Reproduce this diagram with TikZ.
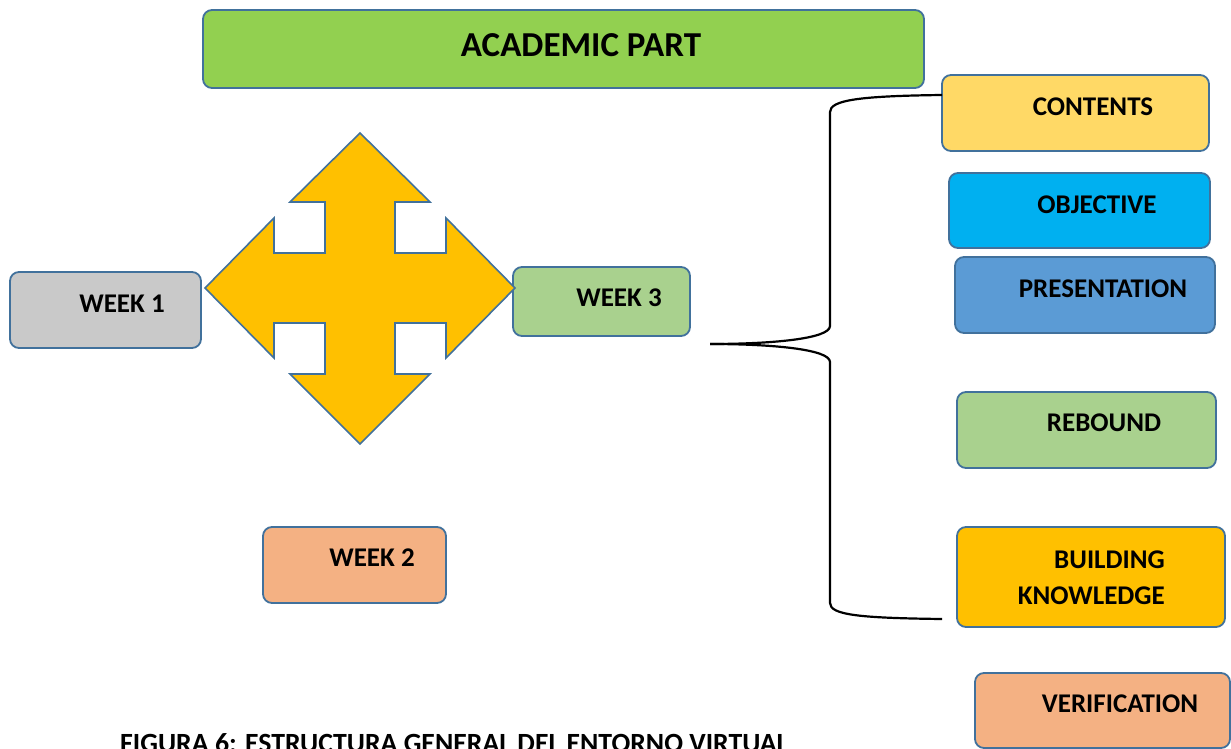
\documentclass[tikz,border=0pt]{standalone}
\usepackage{fontspec}
\setmainfont{Carlito}
\definecolor{bordc}{HTML}{41719C}
\definecolor{titlec}{HTML}{92D050}
\definecolor{contc}{HTML}{FFD966}
\definecolor{objc}{HTML}{00B0F0}
\definecolor{presc}{HTML}{5B9BD5}
\definecolor{rebc}{HTML}{A9D18E}
\definecolor{buildc}{HTML}{FFC000}
\definecolor{verc}{HTML}{F4B183}
\definecolor{grayc}{HTML}{C9C9C9}
\begin{document}
\begin{tikzpicture}[x=1pt,y=-1pt,
  box/.style={draw=bordc, line width=1.8pt, rounded corners=9pt, inner sep=0pt},
  lbl/.style={font=\fontsize{27}{30}\selectfont\bfseries, inner sep=0pt, anchor=base},
  ttl/.style={font=\fontsize{35}{40}\selectfont\bfseries, inner sep=0pt, anchor=base},
  bracec/.style={draw=black, line width=2.2pt}]
\useasboundingbox (0,0) rectangle (1231,749);

% boxes
\node[box, fill=titlec, minimum width=721pt, minimum height=78pt] (acad) at (563.5,49) {};
\node[box, fill=contc, minimum width=267pt, minimum height=76pt] (cont) at (1075.5,113) {};
\node[box, fill=objc, minimum width=261pt, minimum height=75pt] (obj) at (1079.5,210.5) {};
\node[box, fill=presc, minimum width=260pt, minimum height=76pt] (pres) at (1085,295) {};
\node[box, fill=rebc, minimum width=259pt, minimum height=76pt] (reb) at (1086.5,430) {};
\node[box, fill=buildc, minimum width=268pt, minimum height=100pt] (build) at (1091,577) {};
\node[box, fill=verc, minimum width=255pt, minimum height=75pt] (ver) at (1102.5,710.5) {};
\node[box, fill=grayc, minimum width=191pt, minimum height=76pt] (w1) at (105.5,310) {};
\node[box, fill=rebc, minimum width=177pt, minimum height=69pt] (w3) at (601.5,301.5) {};
\node[box, fill=verc, minimum width=183pt, minimum height=76pt] (w2) at (354.5,565) {};

% labels
\node[ttl] (tacad) at (581,56.5) {ACADEMIC PART};
\node[lbl] (tcont) at (1093,115.5) {CONTENTS};
\node[lbl] (tobj) at (1097,213.5) {OBJECTIVE};
\node[lbl] (tpres) at (1103,297.5) {PRESENTATION};
\node[lbl] (treb) at (1104,431.5) {REBOUND};
\node[lbl, anchor=base east] (tbuild1) at (1165,568.5) {BUILDING};
\node[lbl, anchor=base east] (tbuild2) at (1165,604.5) {KNOWLEDGE};
\node[lbl] (tver) at (1120,712.5) {VERIFICATION};
\node[lbl] (tw1) at (122,312.5) {WEEK 1};
\node[lbl] (tw3) at (619,306.5) {WEEK 3};
\node[lbl] (tw2) at (372,566.5) {WEEK 2};
\node[lbl, font=\fontsize{27.8}{30}\selectfont\bfseries, anchor=base west] (cap) at (120,752.5) {FIGURA 6: ESTRUCTURA GENERAL DEL ENTORNO VIRTUAL};

% four-way arrow
\draw[fill=buildc, draw=bordc, line width=1.6pt, line join=miter]
  (360,133) -- (430,202) -- (395,202) -- (395,253) -- (446,253) -- (446,218)
  -- (515,288) -- (446,358) -- (446,323) -- (395,323) -- (395,374) -- (430,374)
  -- (360,444) -- (290,374) -- (325,374) -- (325,323) -- (274,323) -- (274,358)
  -- (205,288) -- (274,218) -- (274,253) -- (325,253) -- (325,202) -- (290,202) -- cycle;

% brace
\coordinate (btop) at (942,95);
\coordinate (btip) at (710,344);
\coordinate (bbot) at (942,619);
\draw[bracec] (btop) .. controls (860,96) and (830,100) .. (830,112)
  -- (830,326) .. controls (830,339) and (770,344) .. (btip);
\draw[bracec] (btip) .. controls (770,344) and (830,349) .. (830,362)
  -- (830,603) .. controls (830,615) and (860,618) .. (bbot);
\end{tikzpicture}
\end{document}
